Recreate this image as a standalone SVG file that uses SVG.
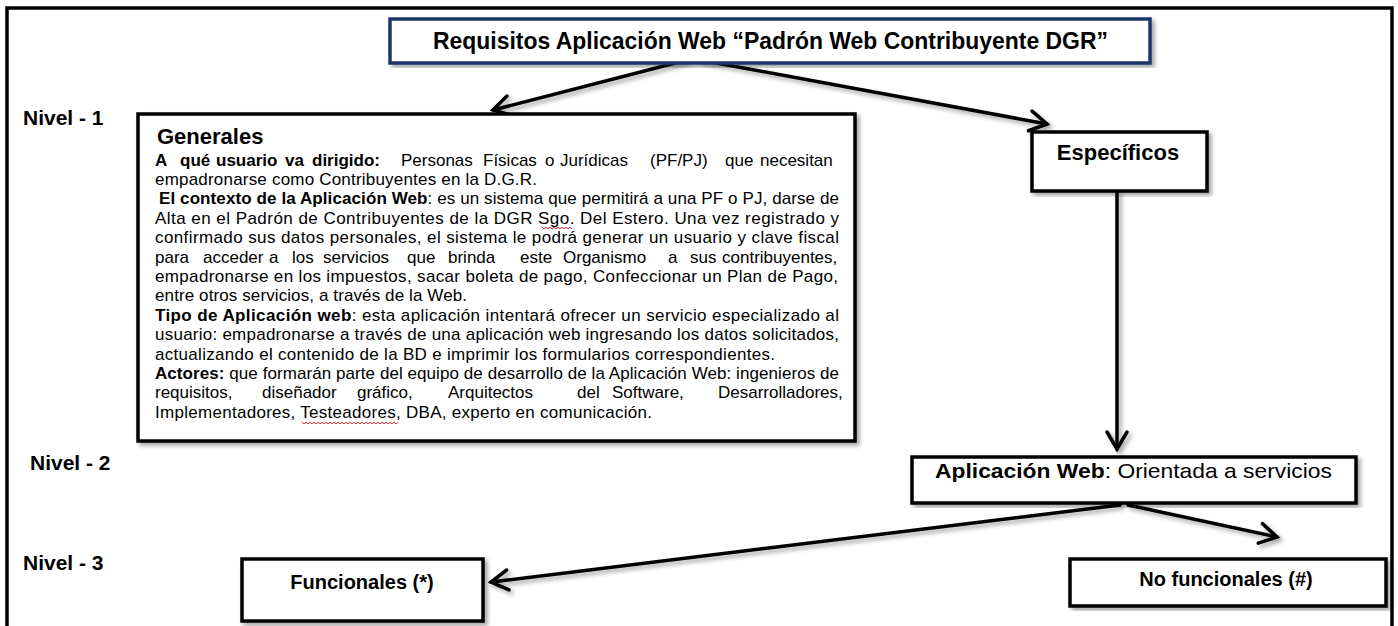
<svg xmlns="http://www.w3.org/2000/svg" width="1398" height="626" viewBox="0 0 1398 626">
<style>
.box{fill:#fff;stroke:#000;stroke-width:3.5}
.lbl{font-family:"Liberation Sans",Arial,sans-serif;font-weight:bold;fill:#000}
.body{font-family:"Liberation Sans",Arial,sans-serif;font-size:17px;fill:#000}
.b{font-weight:bold}
.conn{fill:none;stroke:#000;stroke-width:3.5;stroke-linecap:round}
.sq{fill:none;stroke:#e03030;stroke-width:1}
</style>
<defs>
<marker id="ah" markerUnits="userSpaceOnUse" markerWidth="40" markerHeight="40" refX="0" refY="0" viewBox="-20 -20 40 40" orient="auto">
<path d="M-17,-10 L0,0 L-17,10" fill="none" stroke="#000" stroke-width="3.5" stroke-linecap="round" stroke-linejoin="miter"/>
</marker>
<filter id="sh" x="-5%" y="-5%" width="115%" height="115%">
<feDropShadow dx="3" dy="3" stdDeviation="2" flood-color="#000" flood-opacity="0.35"/>
</filter>
</defs>
<rect x="7" y="8" width="1385" height="640" fill="#fff" stroke="#000" stroke-width="3.5"/>
<g id="levels">
<text class="lbl" x="23" y="125" font-size="21">Nivel - 1</text>
<text class="lbl" x="30" y="470" font-size="21">Nivel - 2</text>
<text class="lbl" x="23" y="570" font-size="21">Nivel - 3</text>
</g>
<g id="connectors" filter="url(#sh)">
<line class="conn" x1="687" y1="60" x2="493" y2="110" marker-end="url(#ah)"/>
<line class="conn" x1="700" y1="60" x2="1047" y2="124" marker-end="url(#ah)"/>
<line class="conn" x1="1117" y1="191" x2="1117" y2="449" marker-end="url(#ah)"/>
<line class="conn" x1="1120" y1="505" x2="491" y2="582" marker-end="url(#ah)"/>
<line class="conn" x1="1128" y1="505" x2="1277" y2="537" marker-end="url(#ah)"/>
</g>
<g id="title">
<rect x="390" y="19" width="760" height="44" fill="#fff" stroke="#1f3668" stroke-width="3.5" filter="url(#sh)"/>
<text class="lbl" x="433" y="49" font-size="23" textLength="675" lengthAdjust="spacingAndGlyphs">Requisitos Aplicación Web “Padrón Web Contribuyente DGR”</text>
</g>
<g id="generales">
<rect class="box" x="138" y="114" width="717" height="327" stroke-width="4" filter="url(#sh)"/>
<text class="lbl" x="157" y="144" font-size="22">Generales</text>
<text class="body" y="165.5"><tspan class="b" x="155">A</tspan><tspan class="b" x="180">qué</tspan><tspan class="b" x="216">usuario</tspan><tspan class="b" x="285">va</tspan><tspan class="b" x="312">dirigido:</tspan><tspan x="401">Personas</tspan><tspan x="483">Físicas</tspan><tspan x="545">o</tspan><tspan x="560">Jurídicas</tspan><tspan x="650">(PF/PJ)</tspan><tspan x="725">que</tspan><tspan x="760">necesitan</tspan></text>
<text class="body" x="155" y="184.9" textLength="382" lengthAdjust="spacing">empadronarse como Contribuyentes en la D.G.R.</text>
<text class="body" x="159" y="204.3" textLength="680" lengthAdjust="spacing"><tspan class="b">El contexto de la Aplicación Web</tspan>: es un sistema que permitirá a una PF o PJ, darse de</text>
<text class="body" x="155" y="223.7" textLength="684" lengthAdjust="spacing">Alta en el Padrón de Contribuyentes de la DGR Sgo. Del Estero. Una vez registrado y</text>
<text class="body" x="155" y="243.1" textLength="684" lengthAdjust="spacing">confirmado sus datos personales, el sistema le podrá generar un usuario y clave fiscal</text>
<text class="body" y="262.5"><tspan x="155">para</tspan><tspan x="203">acceder</tspan><tspan x="269">a</tspan><tspan x="292">los</tspan><tspan x="323">servicios</tspan><tspan x="407">que</tspan><tspan x="448">brinda</tspan><tspan x="520">este</tspan><tspan x="563">Organismo</tspan><tspan x="668">a</tspan><tspan x="690">sus</tspan><tspan x="722">contribuyentes,</tspan></text>
<text class="body" x="155" y="281.9" textLength="683" lengthAdjust="spacing">empadronarse en los impuestos, sacar boleta de pago, Confeccionar un Plan de Pago,</text>
<text class="body" x="155" y="301.3" textLength="312" lengthAdjust="spacing">entre otros servicios, a través de la Web.</text>
<text class="body" x="155" y="320.7" textLength="684" lengthAdjust="spacing"><tspan class="b">Tipo de Aplicación web</tspan>: esta aplicación intentará ofrecer un servicio especializado al</text>
<text class="body" x="155" y="340.1" textLength="684" lengthAdjust="spacing">usuario: empadronarse a través de una aplicación web ingresando los datos solicitados,</text>
<text class="body" x="155" y="359.5" textLength="620" lengthAdjust="spacing">actualizando el contenido de la BD e imprimir los formularios correspondientes.</text>
<text class="body" x="155" y="378.9" textLength="684" lengthAdjust="spacing"><tspan class="b">Actores:</tspan> que formarán parte del equipo de desarrollo de la Aplicación Web: ingenieros de</text>
<text class="body" y="398.3"><tspan x="155">requisitos,</tspan><tspan x="262">diseñador</tspan><tspan x="357">gráfico,</tspan><tspan x="448">Arquitectos</tspan><tspan x="577">del</tspan><tspan x="612">Software,</tspan><tspan x="718">Desarrolladores,</tspan></text>
<text class="body" x="155" y="417.7" textLength="497" lengthAdjust="spacing">Implementadores, Testeadores, DBA, experto en comunicación.</text>
<path class="sq" d="M542,227 l2,2 l2,-2 l2,2 l2,-2 l2,2 l2,-2 l2,2 l2,-2 l2,2 l2,-2 l2,2 l2,-2 l2,2 l2,-2 l2,2"/>
<path class="sq" d="M302,422 l2,2 l2,-2 l2,2 l2,-2 l2,2 l2,-2 l2,2 l2,-2 l2,2 l2,-2 l2,2 l2,-2 l2,2 l2,-2 l2,2 l2,-2 l2,2 l2,-2 l2,2 l2,-2 l2,2 l2,-2 l2,2 l2,-2 l2,2 l2,-2 l2,2 l2,-2 l2,2 l2,-2 l2,2 l2,-2 l2,2 l2,-2 l2,2 l2,-2 l2,2 l2,-2 l2,2 l2,-2 l2,2 l2,-2 l2,2 l2,-2 l2,2 l2,-2 l2,2 l2,-2"/>
</g>
<g id="especificos">
<rect class="box" x="1032" y="132" width="175" height="59" filter="url(#sh)"/>
<text class="lbl" x="1118" y="160" font-size="22" text-anchor="middle">Específicos</text>
</g>
<g id="aplicacion">
<rect class="box" x="912" y="457" width="444" height="46" filter="url(#sh)"/>
<text class="lbl" x="935" y="478" font-size="21" font-weight="normal" textLength="397" lengthAdjust="spacingAndGlyphs"><tspan font-weight="bold">Aplicación Web</tspan><tspan font-weight="normal">: Orientada a servicios</tspan></text>
</g>
<g id="funcionales">
<rect class="box" x="242" y="559" width="241" height="62" filter="url(#sh)"/>
<text class="lbl" x="362" y="589" font-size="20" text-anchor="middle">Funcionales (*)</text>
</g>
<g id="nofuncionales">
<rect class="box" x="1070" y="559" width="316" height="47" filter="url(#sh)"/>
<text class="lbl" x="1226" y="586" font-size="20" text-anchor="middle">No funcionales (#)</text>
</g>
</svg>
